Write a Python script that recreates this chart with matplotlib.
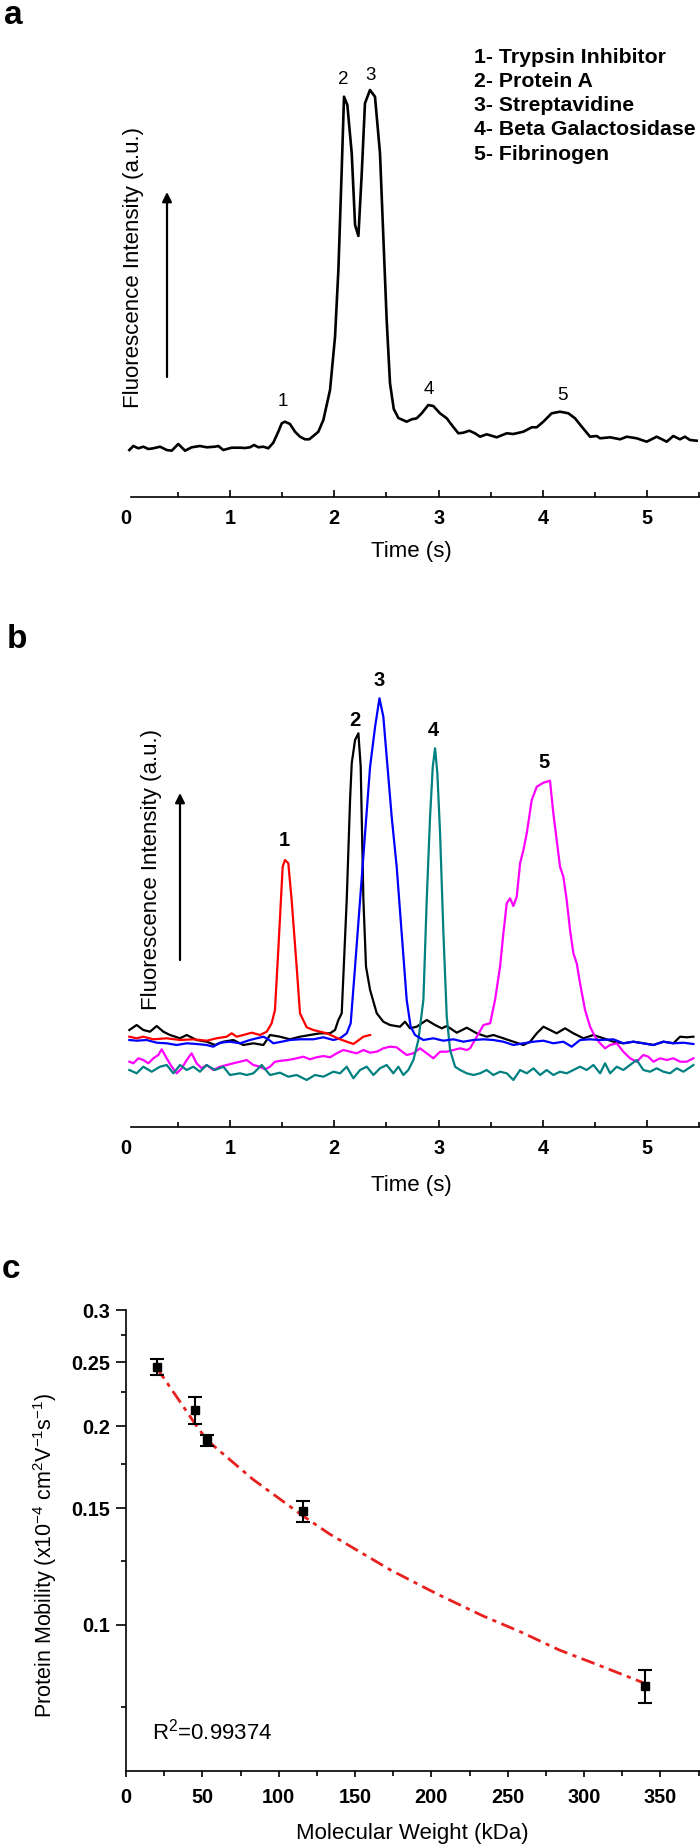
import matplotlib
matplotlib.use('Agg')
import matplotlib.pyplot as plt
from matplotlib.ticker import NullFormatter

plt.rcParams['font.family'] = ['Liberation Sans', 'DejaVu Sans']
plt.rcParams['mathtext.fontset'] = 'custom'
plt.rcParams['mathtext.rm'] = 'Liberation Sans'
plt.rcParams['mathtext.it'] = 'Liberation Sans:italic'
plt.rcParams['mathtext.bf'] = 'Liberation Sans:bold'

# ---------------- data ----------------
protein_names = ['Trypsin Inhibitor', 'Protein A', 'Streptavidine',
                 'Beta Galactosidase', 'Fibrinogen']
peak_ids = ['1', '2', '3', '4', '5']
time_ticks = [0, 1, 2, 3, 4, 5]
time_minor = [0.5, 1.5, 2.5, 3.5, 4.5, 5.5]

# panel a: mixture electropherogram (time in s, intensity in a.u.)
a_time = [0.035, 0.073, 0.121, 0.169, 0.217, 0.265, 0.329, 0.393, 0.441, 0.504,
          0.569, 0.633, 0.712, 0.777, 0.856, 0.888, 0.936, 1.016, 1.096, 1.144,
          1.192, 1.230, 1.272, 1.319, 1.367, 1.415, 1.463, 1.496, 1.527, 1.575,
          1.623, 1.671, 1.719, 1.760, 1.799, 1.847, 1.895, 1.959, 2.007, 2.039,
          2.071, 2.093, 2.125, 2.167, 2.199, 2.231, 2.263, 2.294, 2.342, 2.390,
          2.438, 2.470, 2.502, 2.534, 2.570, 2.614, 2.694, 2.742, 2.790, 2.838,
          2.901, 2.949, 3.013, 3.078, 3.126, 3.189, 3.237, 3.294, 3.349, 3.397,
          3.461, 3.557, 3.653, 3.716, 3.812, 3.893, 3.941, 4.004, 4.084, 4.164,
          4.244, 4.308, 4.372, 4.452, 4.516, 4.548, 4.644, 4.740, 4.804, 4.899,
          4.995, 5.091, 5.187, 5.250, 5.314, 5.362, 5.410, 5.474]
a_int = [47, 51, 48.7, 50.3, 48, 48.7, 50.3, 47, 46.3, 53,
         46.3, 49.7, 51, 49.7, 50.3, 51, 47, 49.3, 49.3, 49,
         49.7, 52, 49.7, 50.3, 48.7, 54.3, 65.3, 73.7, 75.3, 73,
         65.3, 60.3, 57.7, 57.7, 61, 65.3, 77, 107, 160.3, 227,
         327, 400.3, 392, 343.7, 272, 261, 323.7, 393.7, 407, 400.3,
         343.7, 260.3, 177, 113.7, 88, 79, 75.3, 77.7, 78.7, 83.7,
         92, 91, 83.7, 78.7, 72, 63.7, 64.3, 66.3, 63.7, 60.3,
         62.7, 59.7, 63.7, 63, 65.3, 69.7, 69.7, 75.3, 83.7, 85.3,
         83.7, 78.7, 70.3, 60.3, 61, 58.7, 59.7, 57.7, 60.3, 58.7,
         55.3, 60.3, 55.3, 61, 57.7, 60.3, 57, 56.3]
a_label_t = [1.508, 2.083, 2.352, 2.91, 4.19]
a_label_i = [95, 417, 422, 107, 101]

# panel b: individual proteins
red_t = [0.035, 0.105, 0.169, 0.265, 0.393, 0.521, 0.648, 0.776, 0.872, 0.968,
         1.016, 1.064, 1.128, 1.208, 1.288, 1.352, 1.399, 1.431, 1.463, 1.505,
         1.527, 1.559, 1.591, 1.639, 1.671, 1.735, 1.799, 1.927, 2.055, 2.183,
         2.279, 2.343]
red_i = [90.3, 88.7, 90.3, 87.7, 88.7, 87, 87.7, 86.3, 88.7, 90.3,
         93.7, 90.3, 92, 94.3, 92, 95.3, 103.7, 117, 177, 260.3,
         267, 263.7, 227, 160.3, 113.7, 99.7, 97, 93.7, 87.7, 83,
         90.3, 92]

black_t = [0.035, 0.105, 0.169, 0.233, 0.297, 0.361, 0.425, 0.521, 0.585, 0.680,
           0.776, 0.856, 0.936, 1.032, 1.128, 1.224, 1.320, 1.384, 1.479, 1.575,
           1.671, 1.767, 1.863, 1.959, 2.007, 2.039, 2.071, 2.119, 2.151, 2.167,
           2.199, 2.231, 2.253, 2.279, 2.304, 2.343, 2.407, 2.470, 2.534, 2.630,
           2.678, 2.726, 2.790, 2.886, 2.966, 3.030, 3.078, 3.174, 3.270, 3.366,
           3.461, 3.525, 3.621, 3.717, 3.813, 3.877, 3.941, 4.005, 4.068, 4.132,
           4.212, 4.292, 4.388, 4.484, 4.580, 4.676, 4.771, 4.867, 4.963, 5.059,
           5.155, 5.251, 5.315, 5.379, 5.443]
black_i = [97, 102, 97, 95.3, 101, 95.3, 92, 88.7, 92, 87,
           85.3, 82, 85.3, 87, 82, 83.7, 82, 92, 90.3, 87.7,
           90.3, 92, 93.7, 93.7, 97, 107, 113.7, 227, 327, 363.7,
           387, 393.7, 360.3, 227, 160.3, 137, 113.7, 105.3, 102, 100.3,
           105.3, 98.7, 100.3, 107, 102, 98.7, 101, 94.3, 99.3, 93.7,
           90.3, 92, 88.7, 85.3, 82, 85.3, 93.7, 100.3, 97, 93.7,
           98.7, 93.7, 88.7, 92, 88.7, 85.3, 83.7, 85.3, 83.7, 82,
           85.3, 83.7, 90.3, 89.7, 90.3]

blue_t = [0.035, 0.105, 0.201, 0.297, 0.393, 0.489, 0.585, 0.680, 0.776, 0.840,
          0.904, 1.000, 1.096, 1.192, 1.256, 1.320, 1.367, 1.415, 1.495, 1.575,
          1.671, 1.799, 1.895, 1.991, 2.055, 2.119, 2.157, 2.199, 2.247, 2.295,
          2.343, 2.391, 2.433, 2.470, 2.502, 2.550, 2.598, 2.646, 2.694, 2.732,
          2.774, 2.854, 2.950, 3.046, 3.142, 3.238, 3.334, 3.430, 3.525, 3.621,
          3.717, 3.813, 3.909, 4.005, 4.100, 4.196, 4.276, 4.356, 4.452, 4.548,
          4.676, 4.771, 4.867, 4.963, 5.059, 5.155, 5.251, 5.347, 5.443]
blue_i = [87, 86.3, 87, 84.3, 83.7, 82, 83.7, 83, 82, 80.3,
          84.3, 85.3, 83.7, 87, 88.7, 90.3, 87.7, 83.7, 85.3, 87,
          87.7, 87.7, 89.7, 87, 88.7, 93.7, 103.7, 160.3, 227, 293.7,
          360.3, 400.3, 428.7, 410.3, 370.3, 310.3, 260.3, 193.7, 127, 100.3,
          92, 87, 88.7, 86.3, 87.7, 85.3, 87, 87.7, 87, 85.3,
          82, 83.7, 85.3, 86.3, 83.7, 85.3, 80.3, 87, 87.7, 87,
          87.7, 83.7, 85.3, 83.7, 82, 85.3, 83.7, 84.3, 83]

teal_t = [0.035, 0.105, 0.169, 0.249, 0.329, 0.393, 0.457, 0.521, 0.585, 0.648,
          0.712, 0.776, 0.856, 0.936, 1.000, 1.096, 1.160, 1.224, 1.304, 1.384,
          1.479, 1.559, 1.639, 1.735, 1.815, 1.895, 1.991, 2.055, 2.119, 2.183,
          2.247, 2.311, 2.375, 2.438, 2.502, 2.566, 2.614, 2.662, 2.710, 2.758,
          2.806, 2.854, 2.886, 2.918, 2.944, 2.966, 2.988, 3.014, 3.046, 3.078,
          3.110, 3.158, 3.206, 3.270, 3.334, 3.397, 3.461, 3.525, 3.589, 3.653,
          3.717, 3.781, 3.845, 3.909, 3.973, 4.036, 4.100, 4.164, 4.228, 4.292,
          4.356, 4.420, 4.484, 4.548, 4.596, 4.644, 4.708, 4.771, 4.835, 4.899,
          4.963, 5.027, 5.091, 5.155, 5.219, 5.283, 5.347, 5.443]
teal_i = [57, 53.7, 60.3, 55.3, 60.3, 62, 53.7, 62, 57, 60.3,
          55.3, 62, 57, 60.3, 52, 53.7, 52, 53.7, 62, 52,
          54.3, 50.3, 52, 47, 52, 50.3, 55.3, 53.7, 60.3, 48.7,
          57, 60.3, 52, 58.7, 62, 53.7, 60.3, 52, 57, 67,
          87, 127, 227, 310.3, 360.3, 378.7, 353.7, 293.7, 193.7, 110.3,
          77, 60.3, 57, 53.7, 52, 53.7, 57, 52, 55.3, 53.7,
          47, 57, 53.7, 58.7, 52, 57, 52, 55.3, 53.7, 57,
          60.3, 57, 62, 53.7, 63.7, 53.7, 60.3, 57, 62, 67,
          57, 55.3, 58.7, 55.3, 53.7, 58.7, 55.3, 62]

magenta_t = [0.035, 0.073, 0.121, 0.169, 0.217, 0.265, 0.313, 0.345, 0.393, 0.441,
             0.489, 0.537, 0.585, 0.632, 0.680, 0.728, 0.776, 0.840, 0.904, 0.968,
             1.032, 1.096, 1.160, 1.224, 1.288, 1.336, 1.384, 1.431, 1.495, 1.559,
             1.639, 1.703, 1.767, 1.831, 1.895, 1.959, 2.023, 2.087, 2.151, 2.215,
             2.279, 2.343, 2.407, 2.470, 2.534, 2.598,
             2.630, 2.694, 2.758, 2.822, 2.886, 2.950, 3.014, 3.078, 3.142, 3.206,
             3.270, 3.302, 3.366, 3.430, 3.494, 3.541, 3.589, 3.621, 3.653, 3.685,
             3.717, 3.749, 3.781, 3.813, 3.845, 3.893, 3.941, 4.005, 4.068, 4.100,
             4.132, 4.164, 4.196, 4.228, 4.260, 4.292, 4.324, 4.356, 4.404, 4.452,
             4.500, 4.548, 4.596, 4.644, 4.708, 4.771, 4.835, 4.899, 4.963, 5.011,
             5.059, 5.123, 5.187, 5.251, 5.315, 5.379, 5.443]
magenta_i = [65.3, 63.7, 68.7, 67, 63.7, 68.7, 72, 77.7, 68.7, 60.3,
             53.7, 58.7, 67, 73.7, 63.7, 58.7, 62, 57, 60.3, 62,
             63.7, 65.3, 67, 62, 60.3, 57.7, 60.3, 65.3, 66.3, 67,
             68.7, 70.3, 67.7, 69.7, 71, 69.7, 73.7, 77, 75.3, 73.7,
             77, 74.3, 75.3, 78.7, 80.3, 79.7,
             77, 72, 73.7, 78.7, 73.7, 68.7, 75.3, 75.3, 77, 78.7,
             77, 78.7, 90.3, 102, 103.7, 127, 160.3, 193.7, 223.7, 228.7,
             221, 230.3, 263.7, 277, 293.7, 327, 340.3, 344.3, 346.3, 313.7,
             287, 260.3, 250.3, 227, 197, 173.7, 163.7, 143.7, 117, 100.3,
             90.3, 83.7, 78.7, 82, 83.7, 75.3, 68.7, 65.3, 72, 70.3,
             65.3, 68.7, 67, 68.7, 65.3, 65.3, 68.7]
b_label_t = [1.521, 2.198, 2.429, 2.949, 4.013]
b_label_i = [286, 407, 446, 396, 365]

# panel c: mobility vs molecular weight
mw = [20, 45, 53, 116, 340]
mobility = [0.2458, 0.2117, 0.1903, 0.1486, 0.0806]
mobility_err = [0.0069, 0.0100, 0.0039, 0.0053, 0.0047]
fit_mw = [19.8, 36.9, 45, 53.2, 70.7, 83.2, 115.8, 133.3, 173.5, 203.6,
          233.6, 258.7, 283.7, 308.8, 338.8]
fit_mob = [0.2458, 0.2152, 0.2019, 0.1903, 0.1757, 0.1660, 0.1462, 0.1372,
           0.1209, 0.1113, 0.1031, 0.0974, 0.0915, 0.0869, 0.0816]
mob_ticks = [0.1, 0.15, 0.2, 0.25, 0.3]
mob_minor = [0.075, 0.125, 0.175, 0.225, 0.275]
mw_ticks = [0, 50, 100, 150, 200, 250, 300, 350]
mw_minor = [25, 75, 125, 175, 225, 275, 325, 375]

# ---------------- layout helpers (pixel positions) ----------------
W, H = 700, 1847
fig = plt.figure(figsize=(W / 100, H / 100), dpi=100)


def box(left, top, right, bottom):
    return [left / W, 1 - bottom / H, (right - left) / W, (bottom - top) / H]


def fx(x):
    return x / W


def fy(y):
    return 1 - y / H


def time_axis(ax):
    for s in ['left', 'right', 'top']:
        ax.spines[s].set_visible(False)
    ax.spines['bottom'].set_bounds(0.05, 5.506)
    ax.spines['bottom'].set_linewidth(1.2)
    ax.set_xlim(0, 5.506)
    ax.set_yticks([])
    ax.set_xticks(time_ticks)
    ax.set_xticklabels([str(t) for t in time_ticks], fontweight='bold', fontsize=14.3)
    ax.set_xticks(time_minor, minor=True)
    ax.tick_params(axis='x', which='major', direction='in', length=5, width=1.2, pad=8.5)
    ax.tick_params(axis='x', which='minor', direction='in', length=3.5, width=1.2)
    ax.xaxis.get_major_ticks()[0].tick1line.set_visible(False)
    ax.patch.set_visible(False)


def up_arrow(ax, x, y_tail, y_head):
    ax.annotate('', xy=(fx(x), fy(y_head)), xytext=(fx(x), fy(y_tail)),
                xycoords='figure fraction', textcoords='figure fraction',
                annotation_clip=False,
                arrowprops=dict(arrowstyle='-|>', color='black', lw=1.6,
                                mutation_scale=14, shrinkA=0, shrinkB=0))


# ---------------- panel a ----------------
ax_a = fig.add_axes(box(125.7, 60, 700, 497))
ax_a.plot(a_time, a_int, color='black', lw=1.9)
ax_a.set_ylim(0, 437)
time_axis(ax_a)
for lab, t, v in zip(peak_ids, a_label_t, a_label_i):
    ax_a.text(t, v, lab, ha='center', va='center', fontsize=13.5)
up_arrow(ax_a, 167, 377, 192)
fig.text(fx(133), fy(268), 'Fluorescence Intensity (a.u.)', rotation=90,
         ha='center', va='center', fontsize=16)
fig.text(fx(411), fy(552), 'Time (s)', ha='center', va='center', fontsize=16)
for i, name in enumerate(protein_names):
    fig.text(fx(474), fy(57.3 + 24.2 * i), f'{peak_ids[i]}- {name}',
             ha='left', va='center', fontsize=15.3, fontweight='bold')
fig.text(fx(4), fy(16), 'a', ha='left', va='center', fontsize=24, fontweight='bold')

# ---------------- panel b ----------------
ax_b = fig.add_axes(box(125.7, 650, 700, 1127))
ax_b.plot(black_t, black_i, color='black', lw=1.6)
ax_b.plot(magenta_t, magenta_i, color='#ff00ff', lw=1.6)
ax_b.plot(teal_t, teal_i, color='#008080', lw=1.6)
ax_b.plot(blue_t, blue_i, color='#0000ff', lw=1.6)
ax_b.plot(red_t, red_i, color='#ff0000', lw=1.6)
ax_b.set_ylim(0, 477)
time_axis(ax_b)
for lab, t, v in zip(peak_ids, b_label_t, b_label_i):
    ax_b.text(t, v, lab, ha='center', va='center', fontsize=14.5, fontweight='bold')
up_arrow(ax_b, 180, 960, 793)
fig.text(fx(151.7), fy(870), 'Fluorescence Intensity (a.u.)', rotation=90,
         ha='center', va='center', fontsize=16)
fig.text(fx(411), fy(1185), 'Time (s)', ha='center', va='center', fontsize=16)
fig.text(fx(7), fy(640), 'b', ha='left', va='center', fontsize=24, fontweight='bold')

# ---------------- panel c ----------------
ax_c = fig.add_axes(box(126, 1310, 700, 1770.8))
ax_c.set_yscale('log')
ax_c.plot(fit_mw, fit_mob, color='#e8201e', lw=2, linestyle=(0, (5, 2, 1.5, 2)))
ax_c.errorbar(mw, mobility, yerr=mobility_err, fmt='s', color='black', ms=5.5,
              capsize=5, elinewidth=1.5, capthick=1.5)
ax_c.set_xlim(0, 375.9)
ax_c.set_ylim(0.06, 0.3)
for s in ['right', 'top']:
    ax_c.spines[s].set_visible(False)
for s in ['left', 'bottom']:
    ax_c.spines[s].set_linewidth(1.2)
ax_c.set_yticks(mob_ticks)
ax_c.set_yticklabels([f'{v:g}' for v in mob_ticks], fontweight='bold', fontsize=14.3)
ax_c.set_yticks(mob_minor, minor=True)
ax_c.yaxis.set_minor_formatter(NullFormatter())
ax_c.set_xticks(mw_ticks)
ax_c.set_xticklabels([str(v) for v in mw_ticks], fontweight='bold', fontsize=14.3)
ax_c.set_xticks(mw_minor, minor=True)
ax_c.tick_params(axis='y', which='major', direction='out', length=7, width=1.2, pad=4.5)
ax_c.tick_params(axis='y', which='minor', direction='out', length=3.5, width=1.2)
ax_c.tick_params(axis='x', which='major', direction='out', length=4.5, width=1.2, pad=8)
ax_c.tick_params(axis='x', which='minor', direction='out', length=3.5, width=1.2)
ax_c.patch.set_visible(False)
fig.text(fx(151.7), fy(1732), 'R$^2$=0.99374', ha='left', va='center', fontsize=16)
fig.text(fx(412), fy(1833), 'Molecular Weight (kDa)', ha='center', va='center', fontsize=16)
fig.text(fx(45), fy(1555), 'Protein Mobility (x10$^{-4}$ cm$^{2}$V$^{-1}$s$^{-1}$)',
         rotation=90, ha='center', va='center', fontsize=15.5)
fig.text(fx(2), fy(1269), 'c', ha='left', va='center', fontsize=24, fontweight='bold')

fig.savefig('out.png', dpi=100)
